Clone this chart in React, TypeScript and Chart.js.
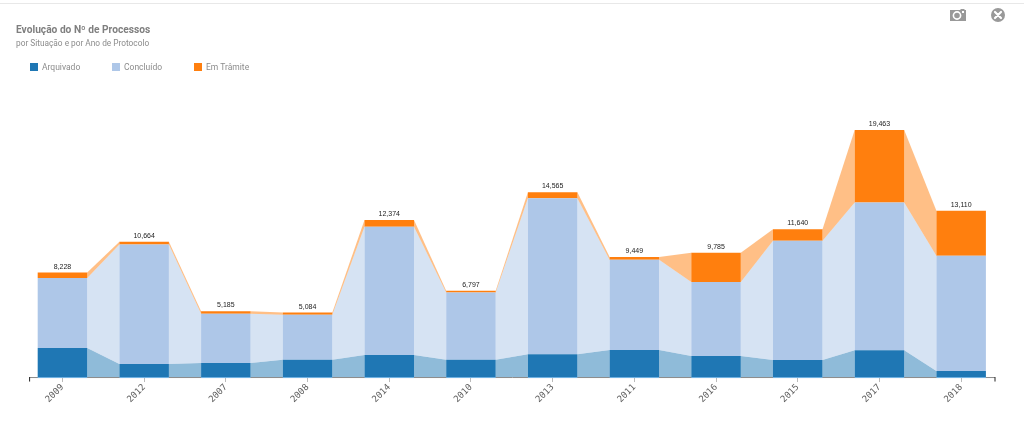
import React, { useEffect, useRef } from "react";
import { Chart, registerables } from "chart.js";

Chart.register(...registerables);

const years = ["2009", "2012", "2007", "2008", "2014", "2010", "2013", "2011", "2016", "2015", "2017", "2018"];
const arquivado = [2290, 1030, 1100, 1370, 1730, 1370, 1800, 2140, 1660, 1350, 2120, 470];
const concluido = [5508, 9414, 3885, 3544, 10104, 5297, 12295, 7109, 5825, 9390, 11643, 9090];
const emTramite = [430, 220, 200, 170, 540, 130, 470, 200, 2300, 900, 5700, 3550];
const totals = ["8,228", "10,664", "5,185", "5,084", "12,374", "6,797", "14,565", "9,449", "9,785", "11,640", "19,463", "13,110"];
const seriesNames = ["Arquivado", "Concluído", "Em Trâmite"];
const seriesColors = ["#1f77b4", "#aec7e8", "#ff7f0e"];
const titleText = "Evolução do Nº de Processos";
const subtitleText = "por Situação e por Ano de Protocolo";

const connectors = {
  id: "connectors",
  beforeDatasetsDraw(chart: any) {
    const { ctx } = chart;
    ctx.save();
    ctx.globalAlpha = 0.5;
    chart.data.datasets.forEach((ds: any, di: number) => {
      const bars = chart.getDatasetMeta(di).data;
      ctx.fillStyle = ds.backgroundColor;
      for (let i = 0; i < bars.length - 1; i++) {
        const a = bars[i];
        const b = bars[i + 1];
        const ax = a.x + a.width / 2;
        const bx = b.x - b.width / 2;
        ctx.beginPath();
        ctx.moveTo(ax, a.y);
        ctx.lineTo(bx, b.y);
        ctx.lineTo(bx, b.base);
        ctx.lineTo(ax, a.base);
        ctx.closePath();
        ctx.fill();
      }
    });
    ctx.restore();
  },
};

const annotations = {
  id: "annotations",
  afterDatasetsDraw(chart: any) {
    const { ctx, chartArea } = chart;
    const top = chart.getDatasetMeta(2).data;
    const bottom = chart.getDatasetMeta(0).data;
    ctx.save();
    ctx.fillStyle = "#222222";
    ctx.font = "7px 'Liberation Sans'";
    ctx.textAlign = "center";
    ctx.textBaseline = "alphabetic";
    top.forEach((bar: any, i: number) => {
      ctx.fillText(totals[i], bar.x, bar.y - 4);
    });
    // axis domain with end ticks
    const y = chartArea.bottom + 0.5;
    const l = chartArea.left + 8;
    const r = chartArea.right - 7;
    ctx.strokeStyle = "#8a8a8a";
    ctx.lineWidth = 1;
    ctx.beginPath();
    ctx.moveTo(l, y);
    ctx.lineTo(r, y);
    ctx.stroke();
    ctx.strokeStyle = "#6fb3e6";
    bottom.forEach((bar: any) => {
      ctx.beginPath();
      ctx.moveTo(bar.x - bar.width / 2, y);
      ctx.lineTo(bar.x + bar.width / 2, y);
      ctx.stroke();
    });
    ctx.strokeStyle = "#222222";
    ctx.beginPath();
    ctx.moveTo(l, y + 4);
    ctx.lineTo(l, y - 0.5);
    ctx.moveTo(r, y - 0.5);
    ctx.lineTo(r, y + 4);
    ctx.stroke();
    ctx.restore();
  },
};

export default function App() {
  const ref = useRef<HTMLCanvasElement>(null);
  useEffect(() => {
    const chart = new Chart(ref.current as HTMLCanvasElement, {
      type: "bar",
      data: {
        labels: years,
        datasets: [arquivado, concluido, emTramite].map((data, i) => ({
          label: seriesNames[i],
          data,
          backgroundColor: seriesColors[i],
          borderWidth: 0,
          barPercentage: 0.606,
          categoryPercentage: 1,
        })),
      },
      options: {
        animation: false,
        responsive: false,
        layout: { padding: { left: 21.6, right: 22, top: 100, bottom: 23 } },
        plugins: { legend: { display: false }, title: { display: false }, tooltip: { enabled: false } },
        scales: {
          x: {
            stacked: true,
            border: { display: false },
            grid: { drawOnChartArea: false, offset: false, tickLength: 5, color: "#bbbbbb", tickColor: "#bbbbbb" },
            ticks: {
              minRotation: 45,
              maxRotation: 45,
              color: "#5e5e5e",
              padding: 0,
              font: { family: "'DejaVu Sans Mono'", size: 9 },
            },
          },
          y: { stacked: true, display: false, min: 0, max: 21830 },
        },
      },
      plugins: [connectors, annotations],
    } as any);
    return () => chart.destroy();
  }, []);

  const text: React.CSSProperties = { position: "absolute", fontFamily: "Roboto, sans-serif", whiteSpace: "nowrap" };
  return (
    <div style={{ position: "fixed", left: 0, top: 0, width: 1024, height: 428, background: "#fff", overflow: "hidden" }}>
      <canvas ref={ref} width={1024} height={428} style={{ position: "absolute", left: 0, top: 0, display: "block" }} />
      <div style={{ position: "absolute", left: 0, top: 3, width: 1024, height: 1, background: "#e8e8e8" }} />
      <div style={{ ...text, left: 16, top: 23, fontSize: 10.2, lineHeight: "14px", fontWeight: 700, color: "#7f7f7f" }}>{titleText}</div>
      <div style={{ ...text, left: 16, top: 37, fontSize: 8.3, lineHeight: "12px", color: "#8c8c8c" }}>{subtitleText}</div>
      {seriesNames.map((name, i) => (
        <React.Fragment key={name}>
          <div style={{ position: "absolute", left: 30 + i * 82, top: 63, width: 8, height: 8, background: seriesColors[i] }} />
          <div style={{ ...text, left: 42 + i * 82, top: 61, fontSize: 8.5, lineHeight: "12px", color: "#8c8c8c" }}>{name}</div>
        </React.Fragment>
      ))}
      <svg style={{ position: "absolute", left: 949, top: 7 }} width={18} height={16} viewBox="0 0 18 16">
        <path d="M1 3h10l1-1h3l1 1h1v11H1z" fill="#999" />
        <circle cx={8} cy={8.5} r={3.6} fill="none" stroke="#fff" strokeWidth={1.6} />
        <rect x={13} y={4} width={2} height={2} fill="#fff" />
      </svg>
      <svg style={{ position: "absolute", left: 990, top: 7 }} width={16} height={16} viewBox="0 0 16 16">
        <circle cx={8} cy={8} r={7} fill="#999" />
        <path d="M5 5l6 6M11 5l-6 6" stroke="#fff" strokeWidth={2.2} strokeLinecap="round" />
      </svg>
    </div>
  );
}
